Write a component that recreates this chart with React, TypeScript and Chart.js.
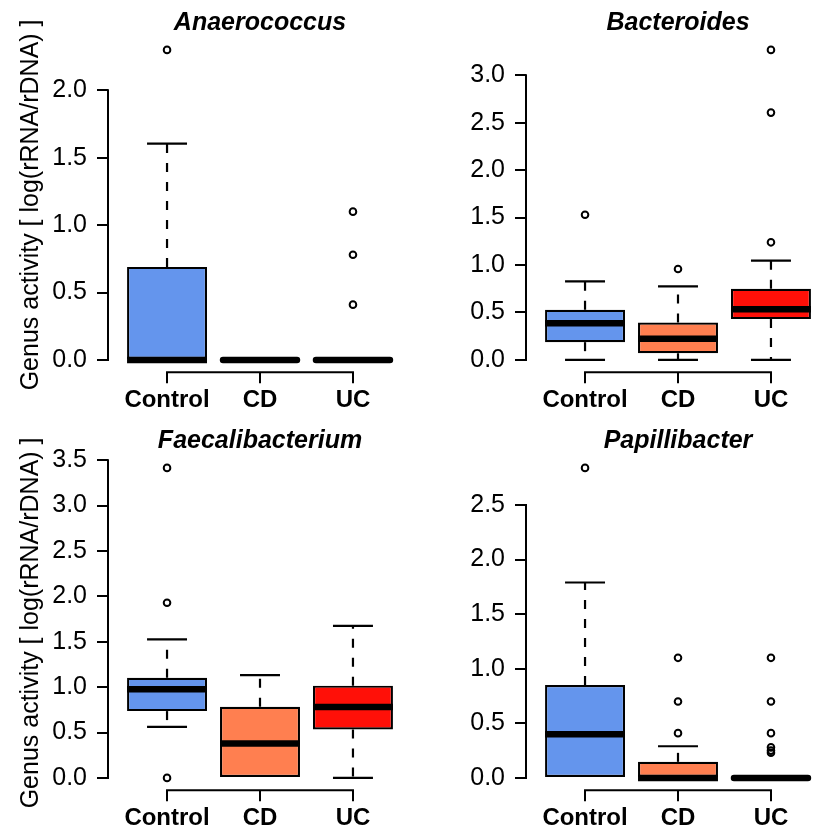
import React, { useEffect, useRef } from 'react';
import { Chart, registerables } from 'chart.js';

Chart.register(...registerables);

// ---------- data ----------
const categories = ['Control', 'CD', 'UC'];
const genusTitles = ['Anaerococcus', 'Bacteroides', 'Faecalibacterium', 'Papillibacter'];
const yAxisTitle = 'Genus activity [ log(rRNA/rDNA) ]';

// per category: [lower whisker, Q1, median, Q3, upper whisker]
const anaerococcusStats = [
  [0, 0, 0, 0.69, 1.605],
  [0, 0, 0, 0, 0],
  [0, 0, 0, 0, 0],
];
const anaerococcusOutliers = [[2.3], [], [1.1, 0.78, 0.41]];
const anaerococcusTicks = [0, 0.5, 1.0, 1.5, 2.0];

const bacteroidesStats = [
  [0, 0.187, 0.387, 0.528, 0.827],
  [0, 0.07, 0.222, 0.394, 0.774],
  [0, 0.43, 0.535, 0.749, 1.046],
];
const bacteroidesOutliers = [[1.53], [0.958], [1.239, 2.606, 3.267]];
const bacteroidesTicks = [0, 0.5, 1.0, 1.5, 2.0, 2.5, 3.0];

const faecalibacteriumStats = [
  [0.563, 0.736, 0.976, 1.104, 1.527],
  [0, 0, 0.38, 0.784, 1.133],
  [0, 0.534, 0.78, 1.016, 1.674],
];
const faecalibacteriumOutliers = [[0, 1.93, 3.415], [], []];
const faecalibacteriumTicks = [0, 0.5, 1.0, 1.5, 2.0, 2.5, 3.0, 3.5];

const papillibacterStats = [
  [0, 0, 0.4, 0.85, 1.79],
  [0, 0, 0, 0.147, 0.29],
  [0, 0, 0, 0, 0],
];
const papillibacterOutliers = [[2.84], [1.1, 0.7, 0.41], [1.1, 0.7, 0.41, 0.28, 0.25, 0.23]];
const papillibacterTicks = [0, 0.5, 1.0, 1.5, 2.0, 2.5];

// ---------- styles ----------
const FONT = "'Liberation Sans', Arial, Helvetica, sans-serif";
const boxColors = ['#6495ED', '#FF7F50', '#FF1008'];
const PANEL_W = 418;
const PANEL_H = 418;

const panels = [
  { title: genusTitles[0], stats: anaerococcusStats, outliers: anaerococcusOutliers, ticks: anaerococcusTicks },
  { title: genusTitles[1], stats: bacteroidesStats, outliers: bacteroidesOutliers, ticks: bacteroidesTicks },
  { title: genusTitles[2], stats: faecalibacteriumStats, outliers: faecalibacteriumOutliers, ticks: faecalibacteriumTicks },
  { title: genusTitles[3], stats: papillibacterStats, outliers: papillibacterOutliers, ticks: papillibacterTicks },
];

function line(ctx: CanvasRenderingContext2D, x1: number, y1: number, x2: number, y2: number) {
  ctx.beginPath();
  ctx.moveTo(x1, y1);
  ctx.lineTo(x2, y2);
  ctx.stroke();
}

function makeExtrasPlugin(panel: any) {
  return {
    id: 'boxplotExtras',
    afterDatasetDraw(chart: any, args: any) {
      if (args.index !== 0) return;
      const ctx: CanvasRenderingContext2D = chart.ctx;
      const yScale = chart.scales.y;
      const meta = chart.getDatasetMeta(0);
      const py = (v: number) => yScale.getPixelForValue(v);
      ctx.save();
      ctx.strokeStyle = '#000';
      meta.data.forEach((bar: any, i: number) => {
        const [lo, q1, med, q3, hi] = panel.stats[i];
        const x = bar.x;
        const w = bar.width;
        ctx.lineWidth = 2.2;
        ctx.lineCap = 'butt';
        ctx.setLineDash([9, 10]);
        if (hi > q3) line(ctx, x, py(q3), x, py(hi));
        if (lo < q1) line(ctx, x, py(q1), x, py(lo));
        ctx.setLineDash([]);
        if (hi > q3) line(ctx, x - w / 4, py(hi), x + w / 4, py(hi));
        if (lo < q1) line(ctx, x - w / 4, py(lo), x + w / 4, py(lo));
        ctx.lineWidth = 6.5;
        if (q3 > q1) {
          line(ctx, x - w / 2, py(med), x + w / 2, py(med));
        } else {
          ctx.lineCap = 'round';
          line(ctx, x - w / 2 + 3, py(med), x + w / 2 - 3, py(med));
        }
      });
      ctx.restore();
    },
    afterDraw(chart: any) {
      const ctx: CanvasRenderingContext2D = chart.ctx;
      const { chartArea } = chart;
      const xs = chart.scales.x;
      const ys = chart.scales.y;
      ctx.save();
      ctx.strokeStyle = '#000';
      ctx.lineWidth = 2;
      ctx.lineCap = 'square';
      const t = panel.ticks;
      line(ctx, chartArea.left, ys.getPixelForValue(t[0]), chartArea.left, ys.getPixelForValue(t[t.length - 1]));
      line(ctx, xs.getPixelForValue(1), chartArea.bottom, xs.getPixelForValue(categories.length), chartArea.bottom);
      ctx.restore();
    },
  };
}

function buildConfig(panel: any, showYTitle: boolean): any {
  const all = [...panel.stats.flat(), ...panel.outliers.flat()];
  const lo = Math.min(...all);
  const hi = Math.max(...all);
  const ext = (hi - lo) * 0.04;

  return {
    type: 'bar',
    data: {
      datasets: [
        {
          type: 'bar',
          data: panel.stats.map((s: number[], i: number) => ({ x: i + 1, y: [s[1], s[3]] })),
          backgroundColor: boxColors,
          borderColor: '#000',
          borderWidth: 2.2,
          borderSkipped: false,
          inflateAmount: 0,
          categoryPercentage: 0.86,
          barPercentage: 1,
          order: 2,
        },
        {
          type: 'scatter',
          data: panel.outliers.flatMap((arr: number[], i: number) => arr.map((v) => ({ x: i + 1, y: v }))),
          pointRadius: 3.3,
          pointBorderWidth: 2,
          pointBackgroundColor: 'rgba(255,255,255,0)',
          pointBorderColor: '#000',
          showLine: false,
          order: 1,
        },
      ],
    },
    options: {
      animation: false,
      responsive: false,
      maintainAspectRatio: false,
      events: [],
      layout: { padding: { left: 0, right: 1, top: 0, bottom: 0 } },
      plugins: {
        legend: { display: false },
        tooltip: { enabled: false },
        title: {
          display: true,
          text: panel.title,
          fullSize: false,
          color: '#000',
          font: { family: FONT, size: 25, weight: 'bold', style: 'italic', lineHeight: 1 },
          padding: { top: 11, bottom: 1.5 },
        },
      },
      scales: {
        x: {
          type: 'linear',
          min: 0.365,
          max: 3.635,
          offset: false,
          afterBuildTicks: (s: any) => {
            s.ticks = categories.map((_, i) => ({ value: i + 1 }));
          },
          afterFit: (s: any) => {
            s.height = 45.7;
          },
          ticks: {
            callback: (v: number) => categories[Math.round(v) - 1],
            color: '#000',
            font: { family: FONT, size: 24, weight: 'bold' },
            padding: 3,
            maxRotation: 0,
            autoSkip: false,
          },
          grid: {
            display: true,
            drawOnChartArea: false,
            drawTicks: true,
            tickLength: 11,
            color: '#000',
            lineWidth: 2,
            offset: false,
          },
          border: { display: false },
        },
        y: {
          type: 'linear',
          min: lo - ext,
          max: hi + ext,
          afterBuildTicks: (s: any) => {
            s.ticks = panel.ticks.map((v: number) => ({ value: v }));
          },
          afterFit: (s: any) => {
            s.width = 108;
          },
          ticks: {
            callback: (v: number) => Number(v).toFixed(1),
            color: '#000',
            font: { family: FONT, size: 25 },
            padding: 10,
          },
          grid: {
            display: true,
            drawOnChartArea: false,
            drawTicks: true,
            tickLength: 11,
            color: '#000',
            lineWidth: 2,
          },
          border: { display: false },
          title: {
            display: showYTitle,
            text: yAxisTitle,
            color: '#000',
            font: { family: FONT, size: 25 },
            padding: { top: 16, bottom: 0 },
          },
        },
      },
    },
    plugins: [makeExtrasPlugin(panel)],
  };
}

function BoxPanel({ panel, index }: { panel: any; index: number }) {
  const ref = useRef<HTMLCanvasElement>(null);
  useEffect(() => {
    if (!ref.current) return;
    const chart = new Chart(ref.current, buildConfig(panel, index % 2 === 0));
    return () => chart.destroy();
  }, [panel, index]);
  const col = index % 2;
  const row = Math.floor(index / 2);
  return (
    <canvas
      ref={ref}
      width={PANEL_W}
      height={PANEL_H}
      style={{
        position: 'absolute',
        left: col * PANEL_W,
        top: row * PANEL_H,
        width: PANEL_W,
        height: PANEL_H,
        display: 'block',
      }}
    />
  );
}

export default function App() {
  return (
    <div
      style={{
        position: 'absolute',
        left: 0,
        top: 0,
        width: 814,
        height: 827,
        overflow: 'hidden',
        background: '#fff',
      }}
    >
      {panels.map((p, i) => (
        <BoxPanel key={p.title} panel={p} index={i} />
      ))}
    </div>
  );
}
